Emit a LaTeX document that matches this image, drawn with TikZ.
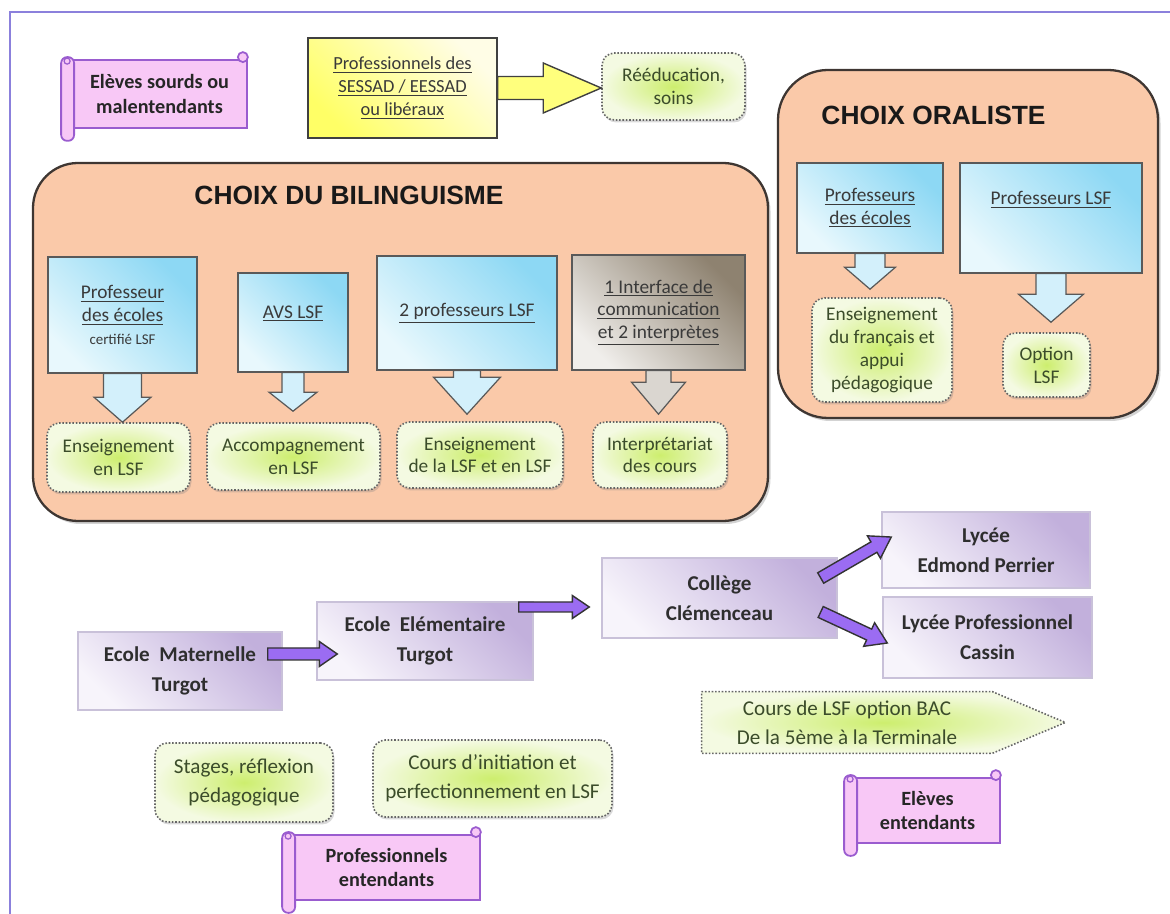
\documentclass[tikz,border=0pt]{standalone}
\usepackage{fontspec}
\setmainfont{Carlito}
\newfontfamily\titlefont{Liberation Sans}
\usetikzlibrary{calc,shadows,backgrounds}
\definecolor{FrameLine}{HTML}{8B80DC}
\definecolor{Peach}{HTML}{FAC9A9}
\definecolor{PanelLine}{HTML}{3E3632}
\definecolor{SkyDark}{HTML}{8DD8F4}
\definecolor{SkyLight}{HTML}{E8F8FD}
\definecolor{SkyPale}{HTML}{D3F0FB}
\definecolor{TaupeDark}{HTML}{8E8270}
\definecolor{TaupeLight}{HTML}{F0EEEB}
\definecolor{TaupePale}{HTML}{DAD6D0}
\definecolor{LimeMid}{HTML}{CDEE6E}
\definecolor{LimeEdge}{HTML}{F4FAE2}
\definecolor{LilacDark}{HTML}{C2B0DC}
\definecolor{LilacLight}{HTML}{F7F4FB}
\definecolor{LilacLine}{HTML}{C9C1D9}
\definecolor{Violet}{HTML}{9B6CF2}
\definecolor{PinkFill}{HTML}{F8C8F6}
\definecolor{PinkLine}{HTML}{9A5CCF}
\definecolor{LemonDark}{HTML}{FFFF66}
\definecolor{LemonLight}{HTML}{FFFDE6}
\definecolor{Olive}{HTML}{3B4C2A}
\definecolor{Ink}{HTML}{3A3A3A}

% block arrow: style, tail, tip, shaft half, head half, head length (px)
\newcommand{\blockarrow}[6]{%
  \draw[#1] let \p1=(#2), \p2=(#3),
    \n1={atan2(\y2-\y1,\x2-\x1)}, \n2={veclen(\x2-\x1,\y2-\y1)} in
    [rotate around={\n1:(\p1)}]
    (\x1,\y1+#4*0.2mm) -- (\x1+\n2-#6*0.2mm,\y1+#4*0.2mm)
    -- (\x1+\n2-#6*0.2mm,\y1+#5*0.2mm) -- (\x1+\n2,\y1)
    -- (\x1+\n2-#6*0.2mm,\y1-#5*0.2mm) -- (\x1+\n2-#6*0.2mm,\y1-#4*0.2mm)
    -- (\x1,\y1-#4*0.2mm) -- cycle;}

% scroll: name, position, width, height, text
\newcommand{\scrollnode}[5]{%
  \node[scroll, sz={#3}{#4}] (#1) at (#2) {#5};
  \draw[roll] ($(#1.north west)+(-10,-2)$) rectangle ($(#1.south west)+(3,12)$);
  \draw[roll] ($(#1.north east)+(-5,-2)$) circle[radius=1mm];
  \draw[PinkLine, line width=0.7pt] ($(#1.north west)+(-4,2)$) circle[radius=0.6mm];}

\begin{document}
\begin{tikzpicture}[
    x=0.2mm, y=-0.2mm,
    sz/.style 2 args={minimum width=#1*0.2mm, minimum height=#2*0.2mm},
    frame/.style={draw=FrameLine, line width=1.1pt},
    panel/.style={draw=PanelLine, line width=1.3pt, fill=Peach, rounded corners=9mm,
      drop shadow={shadow xshift=0.5mm, shadow yshift=-0.6mm, opacity=0.35}},
    title/.style={font=\titlefont\bfseries\fontsize{15}{18}\selectfont, text=black!90},
    sky/.style={draw=black!65, line width=0.7pt, top color=SkyDark, bottom color=SkyLight,
      shading angle=-45, align=center, inner sep=2pt, font=\fontsize{11}{13}\selectfont, text=Ink},
    taupe/.style={sky, top color=TaupeDark, bottom color=TaupeLight, shading angle=-45},
    lemon/.style={draw=black!75, line width=0.9pt, top color=LemonLight, bottom color=LemonDark,
      shading angle=-45, align=center, font=\fontsize{10.5}{13}\selectfont, text=Ink},
    lime/.style={draw=black!60, densely dotted, line width=0.9pt, rounded corners=2.5mm,
      inner color=LimeMid, outer color=LimeEdge, align=center, inner sep=2pt,
      font=\fontsize{11}{13}\selectfont, text=Olive,
      drop shadow={shadow xshift=0.3mm, shadow yshift=-0.5mm, opacity=0.3}},
    bigLime/.style={lime, font=\fontsize{12}{16.5}\selectfont},
    lilac/.style={draw=LilacLine, line width=0.8pt, top color=LilacDark, bottom color=LilacLight,
      shading angle=-45, align=center, font=\fontsize{12}{17}\selectfont\bfseries, text=black!82},
    scroll/.style={draw=PinkLine, line width=1pt, fill=PinkFill, align=center,
      font=\fontsize{11.5}{14}\selectfont\bfseries, text=black!85},
    roll/.style={draw=PinkLine, line width=1pt, fill=PinkFill, rounded corners=1.2mm},
    skyarr/.style={draw=black!65, line width=0.7pt, fill=SkyPale},
    taupearr/.style={draw=black!65, line width=0.7pt, fill=TaupePale},
    lemonarr/.style={draw=black!75, line width=0.8pt, fill=LemonDark!85!white},
    fat/.style={draw=black!80, line width=0.8pt, fill=Violet}
  ]
  \useasboundingbox (0,0) rectangle (1170,914);
  \draw[frame] (10,914) -- (10,12) -- (1170,12);

  % top row
  \scrollnode{deaf}{159.5,94}{175}{68}{Elèves sourds ou\\malentendants}
  \node[lemon, sz={189}{100}] (yel) at (402.5,88)
    {\underline{Professionnels des}\\\underline{SESSAD / EESSAD}\\\underline{ou libéraux}};
  \node[lime, sz={143}{67}] (rea) at (673.5,86.5) {Rééducation,\\soins};
  \blockarrow{lemonarr}{yel.east}{yel.east -| rea.west}{11.5}{25}{58}

  % panels
  \node[panel, sz={735}{358}] (bil) at (400.5,342) {};
  \node[panel, sz={380}{348}, rounded corners=10mm] (ora) at (968,244) {};
  \node[title] (tbil) at (349,195) {CHOIX DU BILINGUISME};
  \node[title] (tora) at (933.5,115) {CHOIX ORALISTE};

  % bilinguisme
  \node[sky, sz={149}{116}] (b1) at (122.5,315)
    {\underline{Professeur}\\\underline{des écoles}\\{\fontsize{8.5}{11}\selectfont certifié LSF}};
  \node[sky, sz={110}{99}, text depth=12pt] (b2) at (293,322.5) {\underline{AVS LSF}};
  \node[sky, sz={180}{114}] (b3) at (467,313) {\underline{2 professeurs LSF}};
  \node[taupe, sz={173}{115}] (b4) at (658.5,312.5)
    {\underline{1 Interface de}\\\underline{communication}\\\underline{et 2 interprètes}};
  \node[lime, sz={143}{69}] (g1) at (118.5,457.5) {Enseignement\\en LSF};
  \node[lime, sz={173}{67}] (g2) at (293.5,456.5) {Accompagnement\\en LSF};
  \node[lime, sz={166}{66}] (g3) at (480,455) {Enseignement\\de la LSF et en LSF};
  \node[lime, sz={134}{66}] (g4) at (660,455) {Interprétariat\\des cours};
  \blockarrow{skyarr}{b1.south}{b1.south |- g1.north}{19}{28.5}{25}
  \blockarrow{skyarr}{b2.south}{$(b2.south |- g2.north)+(0,-11)$}{11}{24}{19}
  \blockarrow{skyarr}{b3.south}{$(b3.south |- g3.north)+(0,-7)$}{13.5}{33.5}{37}
  \blockarrow{taupearr}{b4.south}{$(b4.south |- g4.north)+(0,-7)$}{12.5}{27}{32}

  % oraliste
  \node[sky, sz={146}{90}] (o1) at (870,208) {\underline{Professeurs}\\\underline{des écoles}};
  \node[sky, sz={182}{110}, text depth=23pt] (o2) at (1051,218) {\underline{Professeurs LSF}};
  \node[lime, sz={140}{104}] (og1) at (882,350) {Enseignement\\du français et\\appui\\pédagogique};
  \node[lime, sz={87}{64}] (og2) at (1046.5,365) {Option\\LSF};
  \blockarrow{skyarr}{o1.south}{$(o1.south |- og1.north)+(0,-8)$}{15}{25.5}{22}
  \blockarrow{skyarr}{o2.south}{$(o2.south |- og2.north)+(0,-10)$}{15}{32.5}{28}

  % schools
  \node[lilac, sz={204}{78}] (mat) at (180,671) {Ecole\ \ Maternelle\\Turgot};
  \node[lilac, sz={216}{78}] (ele) at (425,641) {Ecole\ \ Elémentaire\\Turgot};
  \node[lilac, sz={235}{80}] (col) at (719.5,598) {Collège\\Clémenceau};
  \node[lilac, sz={208}{76}] (lep) at (986,550) {Lycée\\Edmond Perrier};
  \node[lilac, sz={209}{81}] (lpc) at (987.5,637.5) {Lycée Professionnel\\Cassin};
  \blockarrow{fat}{$(mat.east)+(-15,-17)$}{$(ele.west)+(21,13)$}{6}{12.5}{18}
  \blockarrow{fat}{$(ele.east)+(-15,-34)$}{$(col.west)+(-12,9)$}{5}{11.5}{17}
  \blockarrow{fat}{$(col.east)+(-17,-20)$}{$(lep.west)+(10,-13)$}{6}{13}{20}
  \blockarrow{fat}{$(col.east)+(-17,14)$}{$(lpc.west)+(5,5.5)$}{6}{13}{20}

  % LSF course arrow
  \node[align=center, font=\fontsize{12}{16.5}\selectfont, text=Olive, sz={290}{61}] (lsf)
    at (847,722.5) {Cours de LSF option BAC\\De la 5ème à la Terminale};
  \begin{scope}[on background layer]
    \draw[draw=black!60, densely dotted, line width=0.9pt, inner color=LimeMid, outer color=LimeEdge]
      (lsf.north west) -- (lsf.north east) -- ($(lsf.east)+(73,0)$) -- (lsf.south east)
      -- (lsf.south west) -- cycle;
  \end{scope}

  % bottom
  \node[bigLime, sz={178}{79}] (stg) at (244,782.5) {Stages, réflexion\\pédagogique};
  \node[bigLime, sz={239}{77}] (cri) at (492.5,778.5) {Cours d’initiation et\\perfectionnement en LSF};
  \scrollnode{hear}{927.5,810.5}{145}{65}{Elèves\\entendants}
  \scrollnode{pro}{386.5,867.5}{187}{65}{Professionnels\\entendants}
\end{tikzpicture}
\end{document}
